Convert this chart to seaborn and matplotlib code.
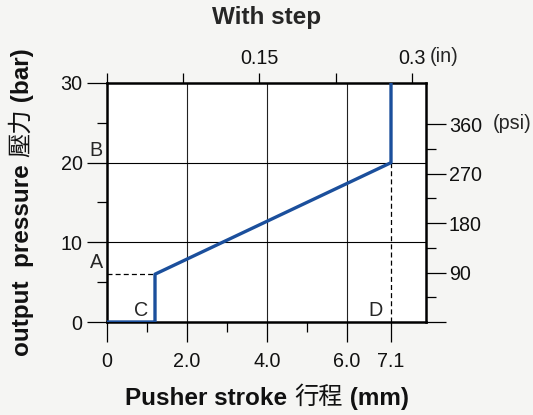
import seaborn as sns
import matplotlib.pyplot as plt
import numpy as np
import pandas as pd

sns.set_theme(style='white')
plt.rcParams['font.family'] = ['Liberation Sans', 'Noto Sans CJK TC', 'DejaVu Sans']

# data
stroke_mm = [0, 1.2, 1.2, 7.1, 7.1]
pressure_bar = [0, 0, 6, 20, 30]
x_major = [0, 2.0, 4.0, 6.0, 7.1]
x_labels = ['0', '2.0', '4.0', '6.0', '7.1']
x_minor = [1, 3, 5]
y_major = [0, 10, 20, 30]
y_minor = [5, 15, 25]
in_ticks = [0, 0.075, 0.15, 0.225, 0.3]
in_labels = ['', '', '0.15', '', '0.3']
psi_major = [0, 90, 180, 270, 360]
psi_labels = ['', '90', '180', '270', '360']
psi_minor = [45, 135, 225, 315]
xlabel_parts = [('Pusher stroke ', 'bold'), ('行程', 'normal'), (' (mm)', 'bold')]
ylabel_parts = [('output  pressure ', 'bold'), ('壓力', 'normal'), (' (bar)', 'bold')]

bg = '#f5f5f3'
blue = '#1b4f9c'
tfs = 14.2   # tick / letter size
lfs = 17.5   # bold label size

fig = plt.figure(figsize=(5.33, 4.15), dpi=100, facecolor=bg)
ax = fig.add_axes([107/533, 93/415, 319/533, 239/415])
ax.set_facecolor('white')

df = pd.DataFrame({'stroke': stroke_mm, 'pressure': pressure_bar})
sns.lineplot(data=df, x='stroke', y='pressure', sort=False, estimator=None,
             color=blue, lw=2.4, ax=ax, zorder=5)

ax.set_xlim(0, 7.975)
ax.set_ylim(0, 30)
ax.set_xlabel('')
ax.set_ylabel('')

# grid
for gx in [2, 4, 6]:
    ax.axvline(gx, color='#222222', lw=0.8, zorder=1)
for gy in [10, 20]:
    ax.axhline(gy, color='black', lw=0.8, zorder=1)

# dashed guides
ax.plot([0, 1.2], [6, 6], color='black', lw=0.9, ls=(0, (4, 2.5)), zorder=3)
ax.plot([7.1, 7.1], [0, 20], color='black', lw=0.9, ls=(0, (4, 2.5)), zorder=3)

for s in ax.spines.values():
    s.set_linewidth(1.8)
    s.set_color('black')

ax.set_xticks(x_major)
ax.set_xticklabels(x_labels)
ax.set_xticks(x_minor, minor=True)
ax.set_yticks(y_major)
ax.set_yticks(y_minor, minor=True)
ax.tick_params(axis='both', which='major', direction='out', length=14.5, width=0.9,
               color='black', labelsize=tfs, labelcolor='#111111')
ax.tick_params(axis='both', which='minor', direction='out', length=7, width=0.9, color='black')
ax.tick_params(axis='x', which='major', pad=7)
ax.tick_params(axis='y', which='major', pad=3)
ax.tick_params(bottom=True, left=True, which='both')

# point labels
ax.text(-0.27, 6.3, 'A', ha='center', va='bottom', fontsize=tfs, clip_on=False)
ax.text(-0.27, 20.3, 'B', ha='center', va='bottom', fontsize=tfs, clip_on=False)
ax.text(0.85, 0.3, 'C', ha='center', va='bottom', fontsize=tfs)
ax.text(6.72, 0.3, 'D', ha='center', va='bottom', fontsize=tfs)

# top axis in inches
axt = ax.twiny()
axt.set_xlim(0, 7.975 / 25.4)
axt.set_xticks(in_ticks)
axt.set_xticklabels(in_labels)
axt.tick_params(axis='x', direction='out', length=7, width=0.9, color='black',
                labelsize=tfs, labelcolor='#111111', pad=4, top=True)
for s in axt.spines.values():
    s.set_visible(False)
axt.text(0.3 + 0.018, 1.11, '(in)', transform=axt.get_xaxis_transform(),
         ha='left', va='center', fontsize=tfs)

# right axis in psi
axr = ax.twinx()
axr.set_ylim(0, 30 * 14.5038)
axr.set_yticks(psi_major)
axr.set_yticklabels(psi_labels)
axr.set_yticks(psi_minor, minor=True)
axr.tick_params(axis='y', which='major', direction='out', length=14.5, width=0.9,
                color='black', labelsize=tfs, labelcolor='#111111', pad=2, right=True)
axr.tick_params(axis='y', which='minor', direction='out', length=7, width=0.9,
                color='black', right=True)
for s in axr.spines.values():
    s.set_visible(False)
axr.text(1.21, 362, '(psi)', transform=axr.get_yaxis_transform(),
         ha='left', va='center', fontsize=tfs)

fig.text(0.5, 0.958, 'With step', ha='center', va='center', fontsize=lfs, fontweight='bold')

# axis labels with mixed weight (CJK part regular)
def mixed_label(parts, cx, cy, vertical):
    W, H = fig.bbox.width, fig.bbox.height
    texts = [fig.text(0, 0, s, fontsize=lfs, fontweight=w, color='#111111',
                      rotation=90 if vertical else 0, ha='left', va='center',
                      rotation_mode='anchor') for s, w in parts]
    fig.canvas.draw()
    r = fig.canvas.get_renderer()
    sizes = []
    for t in texts:
        bb = t.get_window_extent(r)
        sizes.append(bb.height if vertical else bb.width)
    pos = -sum(sizes) / 2
    for t, sz in zip(texts, sizes):
        if vertical:
            t.set_position((cx / W, (cy + pos) / H))
        else:
            t.set_position(((cx + pos) / W, cy / H))
        pos += sz

mixed_label(xlabel_parts, 267, 415 - 398, False)
mixed_label(ylabel_parts, 22, 415 - 202, True)

fig.savefig('out.png', dpi=100, facecolor=bg)
